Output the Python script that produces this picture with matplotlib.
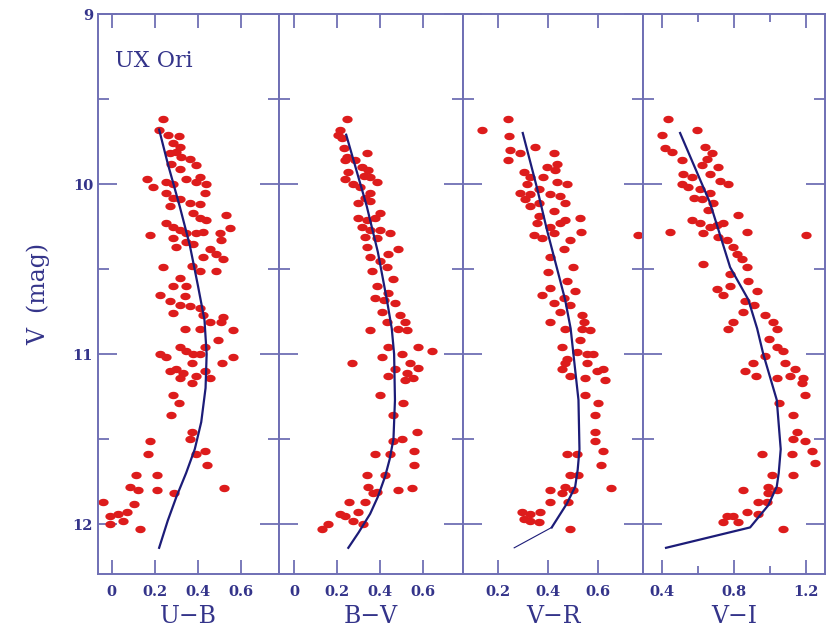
import matplotlib
matplotlib.use("Agg")
import matplotlib.pyplot as plt
import numpy as np
from matplotlib.ticker import MultipleLocator, FixedLocator

# observed points: colour index vs V magnitude, one pair of lists per panel
ub_x = [0.24, 0.22, 0.26, 0.31, 0.285, 0.316, 0.269, 0.30, 0.323, 0.362, 0.277, 0.393, 0.316,
        0.162, 0.192, 0.254, 0.285, 0.346, 0.393, 0.408, 0.439, 0.431, 0.254, 0.285, 0.316,
        0.362, 0.408, 0.269, 0.377, 0.408, 0.439, 0.531, 0.547, 0.254, 0.285, 0.316, 0.346,
        0.393, 0.177, 0.423, 0.50, 0.508, 0.285, 0.346, 0.377, 0.454, 0.485, 0.516, 0.423,
        0.30, 0.239, 0.37, 0.408, 0.485, 0.316, 0.285, 0.346, 0.223, 0.269, 0.316, 0.362,
        0.408, 0.339, 0.285, 0.516, 0.423,
        0.454, 0.508, 0.339, 0.408, 0.562, 0.493, 0.316, 0.223, 0.254, 0.346, 0.377, 0.408,
        0.431, 0.37, 0.513, 0.562, 0.269, 0.30, 0.331, 0.393, 0.431, 0.316, 0.37, 0.454,
        0.282, 0.313, 0.273, 0.37, 0.362, 0.18, 0.169, 0.393, 0.431, 0.442, 0.112, 0.208,
        0.085, 0.123, 0.208, 0.288, 0.519, 0.103, -0.038, 0.031, 0.069, -0.008, -0.008,
        0.054, 0.131]
ub_v = [9.62, 9.68, 9.71, 9.72, 9.76, 9.78, 9.82, 9.81, 9.84, 9.85, 9.88, 9.89, 9.91,
        9.97, 10.02, 9.99, 10.00, 9.97, 9.99, 9.96, 10.00, 10.05, 10.05, 10.08, 10.09,
        10.11, 10.12, 10.13, 10.17, 10.20, 10.21, 10.18, 10.26, 10.23, 10.25, 10.27, 10.29,
        10.29, 10.30, 10.28, 10.29, 10.33, 10.32, 10.34, 10.35, 10.38, 10.41, 10.44, 10.43,
        10.37, 10.49, 10.48, 10.51, 10.51, 10.55, 10.60, 10.60, 10.65, 10.69, 10.71, 10.72,
        10.73, 10.66, 10.76, 10.78, 10.77,
        10.81, 10.81, 10.85, 10.85, 10.86, 10.92, 10.96, 11.00, 11.02, 10.98, 11.00, 11.00,
        10.96, 11.05, 11.05, 11.02, 11.10, 11.09, 11.11, 11.13, 11.10, 11.14, 11.17, 11.14,
        11.24, 11.29, 11.36, 11.46, 11.50, 11.51, 11.59, 11.59, 11.57, 11.65, 11.71, 11.71,
        11.78, 11.80, 11.80, 11.82, 11.79, 11.88, 11.87, 11.94, 11.93, 11.95, 12.00,
        11.98, 12.03]

bv_x = [0.248, 0.214, 0.206, 0.221, 0.232, 0.245, 0.237, 0.284, 0.338, 0.315, 0.346, 0.252,
        0.323, 0.354, 0.385, 0.237, 0.276, 0.307, 0.354, 0.331, 0.299, 0.354, 0.401, 0.299,
        0.338, 0.377, 0.315, 0.354, 0.401, 0.447, 0.331, 0.385, 0.486, 0.338, 0.439, 0.354,
        0.401, 0.361, 0.432, 0.463, 0.385, 0.439, 0.377, 0.418, 0.471, 0.408, 0.494,
        0.354, 0.432, 0.486, 0.525, 0.517, 0.439, 0.501, 0.58, 0.642, 0.408, 0.541, 0.268,
        0.471, 0.58, 0.525, 0.556, 0.517, 0.439, 0.401, 0.509, 0.46, 0.572, 0.502, 0.463,
        0.559, 0.377, 0.447, 0.559, 0.338, 0.425, 0.346, 0.385, 0.486, 0.549, 0.369, 0.257,
        0.331, 0.214, 0.237, 0.299, 0.276, 0.32, 0.159, 0.128]
bv_v = [9.62, 9.68, 9.71, 9.73, 9.79, 9.84, 9.86, 9.86, 9.82, 9.90, 9.92, 9.93,
        9.95, 9.96, 9.99, 9.97, 10.00, 10.02, 10.05, 10.08, 10.11, 10.10, 10.17, 10.20,
        10.21, 10.20, 10.25, 10.27, 10.27, 10.29, 10.31, 10.32, 10.38, 10.37, 10.41, 10.43,
        10.45, 10.51, 10.49, 10.56, 10.60, 10.64, 10.67, 10.68, 10.70, 10.75, 10.77,
        10.86, 10.81, 10.85, 10.86, 10.81, 10.96, 11.00, 10.96, 10.98, 11.02, 11.05, 11.05,
        11.09, 11.08, 11.11, 11.14, 11.15, 11.13, 11.24, 11.29, 11.36, 11.46, 11.50, 11.51,
        11.57, 11.59, 11.59, 11.65, 11.71, 11.71, 11.78, 11.81, 11.80, 11.79, 11.82, 11.87,
        11.87, 11.94, 11.95, 11.93, 11.98, 12.00, 12.00, 12.03]

vr_x = [0.24, 0.138, 0.244, 0.349, 0.25, 0.29, 0.24, 0.422, 0.435, 0.396, 0.428, 0.303,
        0.329, 0.382, 0.435, 0.475, 0.316, 0.363, 0.29, 0.329, 0.409, 0.448, 0.31, 0.363,
        0.468, 0.329, 0.422, 0.363, 0.468, 0.528, 0.356, 0.409, 0.448, 0.343, 0.376, 0.422,
        0.531, 0.758, 0.488, 0.462, 0.409, 0.501, 0.402, 0.475, 0.409, 0.376, 0.508, 0.462,
        0.422, 0.488, 0.448, 0.534,
        0.409, 0.468, 0.541, 0.534, 0.567, 0.527, 0.455, 0.514, 0.554, 0.58, 0.475, 0.554,
        0.468, 0.455, 0.488, 0.547, 0.594, 0.62, 0.627, 0.547, 0.60, 0.587, 0.587, 0.587,
        0.475, 0.514, 0.617, 0.609, 0.488, 0.521, 0.409, 0.468, 0.501, 0.649, 0.455, 0.409,
        0.481, 0.297, 0.329, 0.369, 0.303, 0.329, 0.363, 0.488]
vr_v = [9.62, 9.68, 9.72, 9.78, 9.80, 9.82, 9.86, 9.82, 9.88, 9.90, 9.92, 9.93,
        9.96, 9.96, 9.99, 10.00, 10.00, 10.03, 10.05, 10.06, 10.06, 10.07, 10.09, 10.11,
        10.11, 10.13, 10.16, 10.19, 10.21, 10.20, 10.23, 10.25, 10.23, 10.30, 10.32, 10.29,
        10.28, 10.30, 10.33, 10.38, 10.43, 10.49, 10.52, 10.57, 10.61, 10.65, 10.63, 10.67,
        10.70, 10.71, 10.75, 10.77,
        10.81, 10.85, 10.81, 10.85, 10.86, 10.92, 10.96, 10.99, 11.00, 11.00, 11.03, 11.05,
        11.05, 11.09, 11.13, 11.14, 11.10, 11.09, 11.15, 11.24, 11.29, 11.36, 11.46, 11.51,
        11.59, 11.59, 11.57, 11.65, 11.71, 11.71, 11.80, 11.78, 11.80, 11.79, 11.82, 11.87,
        11.87, 11.93, 11.94, 11.93, 11.97, 11.98, 11.99, 12.03]

vi_x = [0.437, 0.594, 0.40, 0.418, 0.455, 0.511, 0.64, 0.678, 0.649, 0.622, 0.714, 0.668,
        0.52, 0.566, 0.725, 0.77, 0.511, 0.548, 0.612, 0.668, 0.577, 0.622, 0.686, 0.659,
        0.826, 0.566, 0.612, 0.668, 0.705, 0.742, 0.446, 0.872, 1.202, 0.631, 0.714, 0.76,
        0.797, 0.816, 0.872, 0.844, 0.779, 0.881, 0.631, 0.705, 0.742, 0.779, 0.931, 0.862,
        0.914, 0.853, 0.974,
        0.77, 0.798, 1.02, 1.039, 0.998, 1.039, 1.076, 0.974, 1.085, 0.909, 0.863, 0.924,
        1.039, 1.113, 1.141, 1.187, 1.178, 1.196, 1.052, 1.131, 1.15, 1.131, 1.196, 1.233,
        1.252, 0.955, 1.122, 1.131, 1.011, 0.853, 0.992, 1.039, 0.992, 0.937, 0.983, 0.872,
        0.937, 0.761, 0.798, 0.742, 0.826, 1.076]
vi_v = [9.62, 9.68, 9.71, 9.79, 9.81, 9.86, 9.78, 9.82, 9.85, 9.89, 9.90, 9.94,
        9.94, 9.96, 9.98, 10.00, 10.00, 10.02, 10.03, 10.05, 10.08, 10.09, 10.11, 10.15,
        10.18, 10.21, 10.23, 10.25, 10.24, 10.23, 10.28, 10.28, 10.30, 10.29, 10.31, 10.33,
        10.37, 10.41, 10.49, 10.44, 10.53, 10.57, 10.47, 10.62, 10.65, 10.60, 10.63, 10.69,
        10.71, 10.75, 10.77,
        10.85, 10.81, 10.81, 10.85, 10.91, 10.96, 10.98, 11.01, 11.05, 11.05, 11.10, 11.13,
        11.14, 11.13, 11.09, 11.14, 11.17, 11.24, 11.29, 11.36, 11.46, 11.50, 11.51, 11.57,
        11.64, 11.59, 11.59, 11.71, 11.71, 11.80, 11.78, 11.80, 11.82, 11.87, 11.87, 11.93,
        11.94, 11.95, 11.95, 11.99, 11.99, 12.03]

# model tracks (blue lines)
ub_fit_x = [0.22, 0.26, 0.315, 0.362, 0.40, 0.43, 0.44, 0.435, 0.415, 0.385, 0.345, 0.30, 0.26, 0.22]
ub_fit_v = [9.68, 9.88, 10.13, 10.36, 10.60, 10.80, 11.00, 11.20, 11.40, 11.56, 11.70, 11.84, 11.98, 12.14]
bv_fit_x = [0.242, 0.29, 0.338, 0.39, 0.432, 0.455, 0.466, 0.47, 0.463, 0.445, 0.424, 0.39, 0.354, 0.30, 0.252]
bv_fit_v = [9.71, 9.92, 10.13, 10.40, 10.68, 10.85, 11.00, 11.27, 11.50, 11.62, 11.72, 11.84, 11.94, 12.05, 12.14]
vr_fit_x = [0.30, 0.356, 0.396, 0.44, 0.468, 0.49, 0.501, 0.521, 0.525, 0.518, 0.508, 0.475, 0.415]
vr_fit_v = [9.70, 10.02, 10.27, 10.52, 10.68, 10.85, 11.00, 11.27, 11.56, 11.68, 11.78, 11.88, 12.02]
vr_tail_x = [0.415, 0.266]
vr_tail_v = [12.02, 12.14]
vi_fit_x = [0.502, 0.668, 0.78, 0.881, 0.93, 0.964, 1.039, 1.061, 1.05, 1.039, 0.992, 0.891, 0.424]
vi_fit_v = [9.70, 10.11, 10.49, 10.68, 10.85, 11.00, 11.27, 11.56, 11.70, 11.78, 11.89, 12.02, 12.14]

labels = ["U\u2212B", "B\u2212V", "V\u2212R", "V\u2212I"]
xlims = [(-0.063, 0.775), (-0.072, 0.788), (0.063, 0.777), (0.296, 1.307)]

frame_col = "#6f6fb4"
text_col = "#34348a"
line_col = "#1c1c78"
dot_col = "#dd1c1c"

t = np.linspace(0, 2 * np.pi, 32)
ellipse = np.column_stack([np.cos(t), 0.72 * np.sin(t)])

fig = plt.figure(figsize=(8.26, 6.28), dpi=100)
W, H = 826.0, 628.0
edges = [98, 279, 463, 643, 825]
top, bottom = 14, 574

panels = [
    (ub_x, ub_v, ub_fit_x, ub_fit_v),
    (bv_x, bv_v, bv_fit_x, bv_fit_v),
    (vr_x, vr_v, vr_fit_x, vr_fit_v),
    (vi_x, vi_v, vi_fit_x, vi_fit_v),
]

for i, (px, pv, fx, fv) in enumerate(panels):
    ax = fig.add_axes([edges[i] / W, 1 - bottom / H, (edges[i + 1] - edges[i]) / W, (bottom - top) / H])
    ax.scatter(px, pv, s=55, marker=ellipse, color=dot_col, linewidths=0, zorder=2)
    ax.plot(fx, fv, color=line_col, lw=1.6, zorder=3)
    if i == 2:
        ax.plot(vr_tail_x, vr_tail_v, color=line_col, lw=0.8, zorder=3)
    ax.set_xlim(*xlims[i])
    ax.set_ylim(12.294, 9.0)

    ax.yaxis.set_major_locator(MultipleLocator(1))
    ax.yaxis.set_minor_locator(MultipleLocator(0.5))
    if i == 3:
        ax.xaxis.set_major_locator(FixedLocator([0.4, 0.8, 1.2]))
        ax.xaxis.set_minor_locator(FixedLocator([0.6, 1.0]))
        ax.set_xticklabels(["0.4", "0.8", "1.2"])
    else:
        ax.xaxis.set_major_locator(MultipleLocator(0.2))
        ax.xaxis.set_major_formatter(plt.FuncFormatter(lambda v, p: "0" if abs(v) < 1e-9 else f"{v:.1f}"))

    ax.tick_params(which="both", direction="in", top=True, right=True, color=frame_col,
                   width=1.3, labelcolor=text_col, labelsize=10.5)
    ax.tick_params(axis="y", which="major", length=14)
    ax.tick_params(axis="y", which="minor", length=8)
    ax.tick_params(axis="x", which="major", length=10, pad=8)
    ax.tick_params(axis="x", which="minor", length=6)
    for lab in ax.get_xticklabels() + ax.get_yticklabels():
        lab.set_family("DejaVu Serif")
        lab.set_fontweight("bold")
    if i > 0:
        ax.tick_params(axis="y", labelleft=False)
    for sp in ax.spines.values():
        sp.set_color(frame_col)
        sp.set_linewidth(1.4)
    ax.set_xlabel(labels[i], family="DejaVu Serif", fontsize=17, color=text_col, labelpad=4)
    if i == 0:
        ax.set_ylabel("V  (mag)", family="DejaVu Serif", fontsize=17, color=text_col, labelpad=16)
        ax.text(0.094, 0.905, "UX Ori", transform=ax.transAxes, family="DejaVu Serif",
                fontsize=16, color=text_col)

fig.savefig("out.png", dpi=100)
